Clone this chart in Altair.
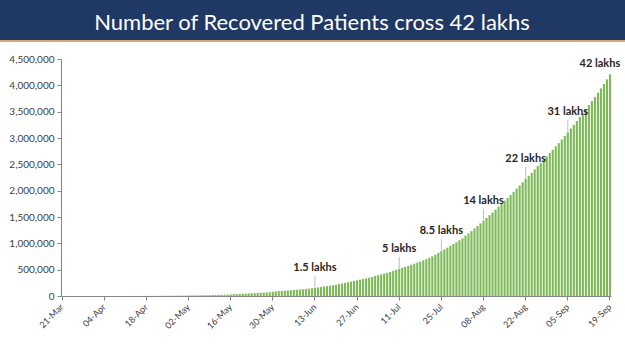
import altair as alt
import pandas as pd

START_DATE = "2020-03-21"

# Cumulative recovered patients, one value per day from 21-Mar to 19-Sep
RECOVERED = [
    20, 23, 27, 40, 43, 45, 66, 85, 96, 120, 124, 144,
    151, 164, 169, 229, 274, 318, 353, 411, 473, 504, 620, 776, 857, 1036,
    1190, 1344, 1515, 1749, 2231, 2549, 2856, 3252, 3870, 4370, 5063, 5804,
    6185, 7027, 7797, 8325,
    9065, 10019, 10887, 11762, 12727, 14183, 15267, 16540, 17847, 19358,
    21131, 22455, 24386, 27920, 30153, 34109, 36824, 39174, 42298, 45300,
    48534, 51784, 54441, 57720, 60490, 64426, 67692, 71106, 82370, 86984, 91819,
    95527, 100303, 104107, 109462, 114073, 119293, 124095, 129215, 134670,
    141029, 147195, 154330, 162379, 169798, 180013, 186935, 194325, 204711,
    213831, 227756, 237196, 248190, 258685, 271697, 285637, 295881, 309713,
    321723, 334822, 347979,
    359860, 379892, 394227, 409083, 424433, 439948, 456831, 476378, 495513,
    515386, 534621, 553471, 571460, 592032, 612815, 635757, 653751, 677423,
    700087, 724578, 753050, 782607, 817209, 849431, 885577, 917568, 952743,
    988029, 1020582, 1057805, 1094374,
    1145629, 1186203, 1230509, 1282215, 1328336, 1378105, 1427005, 1480884,
    1535743, 1583489, 1639599, 1695982, 1751555, 1808936, 1862258, 1919842,
    1977779, 2037870, 2096664, 2158946, 2222577, 2280566, 2338035, 2404585,
    2467758, 2523771, 2583948, 2648998, 2713933, 2774801, 2839882,
    2901908, 2970492, 3037151, 3107223, 3180865, 3250429, 3323950, 3398844,
    3471783, 3542663, 3624196, 3702595, 3777900, 3859399, 3942360, 4025079,
    4112551, 4208431,
]

Y_TICKS = [0, 500000, 1000000, 1500000, 2000000, 2500000, 3000000,
           3500000, 4000000, 4500000]

TICK_LABELS = ["21-Mar", "04-Apr", "18-Apr", "02-May", "16-May", "30-May",
               "13-Jun", "27-Jun", "11-Jul", "25-Jul", "08-Aug", "22-Aug",
               "05-Sep", "19-Sep"]

ANNOT_DATES = ["13-Jun", "11-Jul", "25-Jul", "08-Aug", "22-Aug", "05-Sep"]
ANNOT_TEXT = ["1.5 lakhs", "5 lakhs", "8.5 lakhs", "14 lakhs", "22 lakhs", "31 lakhs"]

LAST_DATE = "19-Sep"
LAST_TEXT = "42 lakhs"

TITLE = "Number of Recovered Patients cross 42 lakhs"

dates = pd.date_range(START_DATE, periods=len(RECOVERED), freq="D").strftime("%d-%b")
df = pd.DataFrame({"date": list(dates), "value": RECOVERED})
lookup = dict(zip(df["date"], df["value"]))

ann = pd.DataFrame({"date": ANNOT_DATES, "label": ANNOT_TEXT,
                    "value": [lookup[d] for d in ANNOT_DATES]})
last = pd.DataFrame({"date": [LAST_DATE], "label": [LAST_TEXT],
                     "value": [lookup[LAST_DATE]]})

W, H = 550, 237
YMAX = Y_TICKS[-1]
LEADER = 12 * YMAX / H  # 12 px of leader line, in data units

xscale = alt.Scale(domain=list(df["date"]), paddingInner=0.3, paddingOuter=0)
yscale = alt.Scale(domain=[0, YMAX], nice=False)

xaxis = alt.Axis(values=TICK_LABELS, title=None, labelAngle=-45,
                 labelAlign="right", labelBaseline="middle",
                 labelPadding=5, labelFontSize=9, labelColor="#404040",
                 labelFont="Lato", tickSize=4, tickColor="#868686",
                 domainColor="#868686", labelOverlap=False)
yaxis = alt.Axis(values=Y_TICKS, format=",d",
                 title=None, grid=False, labelFontSize=10,
                 labelColor="#404040", labelFont="Lato", tickSize=4,
                 tickColor="#868686", domainColor="#868686",
                 labelPadding=3, labelOverlap=False, labelBound=False)

x = alt.X("date:O", scale=xscale, sort=None, axis=xaxis)
y = alt.Y("value:Q", scale=yscale, axis=yaxis)

bars = alt.Chart(df).mark_bar(color="#7db957").encode(x=x, y=y)

leaders = alt.Chart(ann).transform_calculate(
    top=f"datum.value + {LEADER}"
).mark_rule(color="#bfbfbf", strokeWidth=1).encode(x=x, y=y, y2="top:Q")

labels = alt.Chart(ann).mark_text(
    font="Lato", fontSize=11, fontWeight="bold", color="#262626",
    baseline="middle", dy=-20
).encode(x=x, y=y, text="label:N")

last_label = alt.Chart(last).mark_text(
    font="Lato", fontSize=11, fontWeight="bold", color="#262626",
    baseline="middle", dy=-10, dx=-10
).encode(x=x, y=y, text="label:N")

one = alt.Data(values=[{"k": 1}])
banner = alt.Chart(one).mark_rect(color="#1f3864").encode(
    x=alt.value(-61), x2=alt.value(564), y=alt.value(-59), y2=alt.value(-19))
stripe = alt.Chart(one).mark_rect(color="#d7a878").encode(
    x=alt.value(-61), x2=alt.value(564), y=alt.value(-19), y2=alt.value(-17))
title = alt.Chart(one).mark_text(
    font="Lato", fontSize=22, color="white", baseline="alphabetic",
    align="center"
).encode(x=alt.value(251), y=alt.value(-29), text=alt.value(TITLE))

chart = alt.layer(bars, leaders, labels, last_label, banner, stripe, title).properties(
    width=W, height=H,
    autosize=alt.AutoSizeParams(type="none"),
    padding={"left": 61, "top": 59, "right": 14, "bottom": 55},
    background="white",
).configure_view(stroke=None)

chart.save("out.html", embed_options={"renderer": "svg", "actions": False})
